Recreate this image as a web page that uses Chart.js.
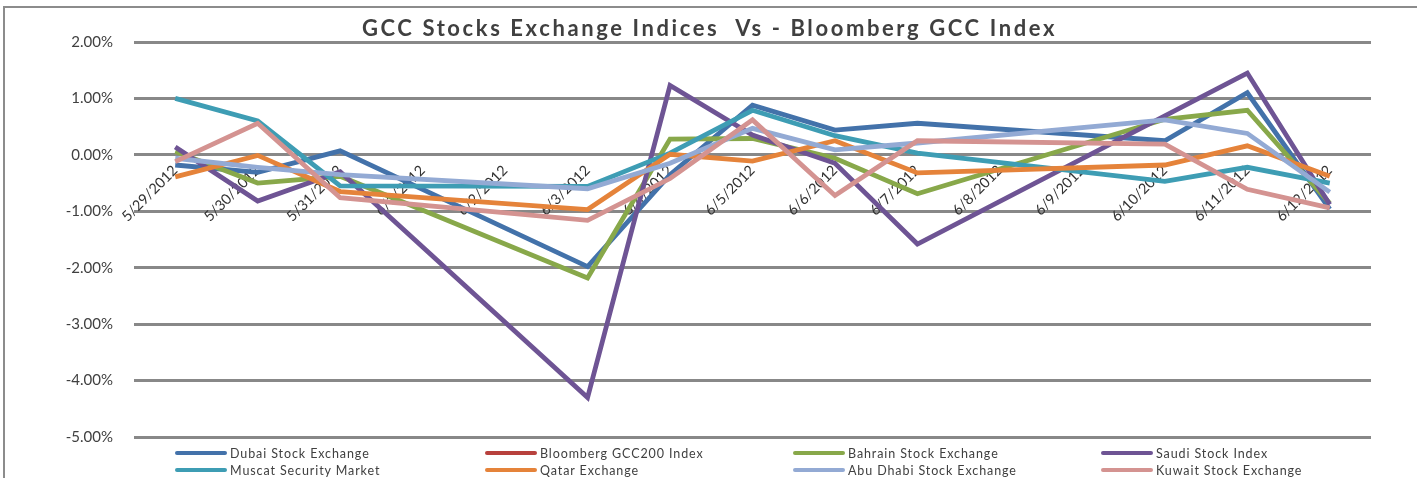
<!DOCTYPE html>
<html>
<head>
<meta charset="utf-8">
<script src="https://cdn.jsdelivr.net/npm/chart.js@4.4.1/dist/chart.umd.min.js"></script>
<style>
  html, body { margin: 0; padding: 0; background: #fff; }
  #wrap { position: relative; width: 1417px; height: 478px; overflow: hidden; }
  #frame { position: absolute; left: 3px; top: 6px; width: 1440px; height: 500px; border: 2px solid #8c8c8c; }
  #chart { position: absolute; left: 0; top: 0; }
  #legend { position: absolute; left: 0; top: 0; width: 1417px; height: 478px; pointer-events: none;
            font-family: Lato; font-size: 12.5px; letter-spacing: 0.9px; color: #404040; }
  .item { position: absolute; display: flex; align-items: center; white-space: nowrap; height: 16px; }
  .swatch { width: 52px; height: 4.5px; border-radius: 2.5px; margin-right: 3px; }
</style>
</head>
<body>
<div id="wrap">
  <div id="frame"></div>
  <canvas id="chart" width="1417" height="478"></canvas>
  <div id="legend"></div>
</div>
<script>
// Trading days only; weekends (6/1-6/2, 6/8-6/9) have no values
const dates = ['5/29/2012', '5/30/2012', '5/31/2012', '6/1/2012', '6/2/2012', '6/3/2012', '6/4/2012',
    '6/5/2012', '6/6/2012', '6/7/2012', '6/8/2012', '6/9/2012', '6/10/2012', '6/11/2012', '6/12/2012'];

const dubai     = [-0.18, -0.31,  0.07, null, null, -1.98, -0.35, 0.88,  0.44,  0.56, null, null,  0.25,  1.10, -0.96];
const bloomberg = [null, null, null, null, null, null, null, null, null, null, null, null, null, null, null];
const bahrain   = [ 0.06, -0.50, -0.38, null, null, -2.18,  0.28, 0.29, -0.06, -0.69, null, null,  0.63,  0.79, -0.86];
const saudi     = [ 0.14, -0.82, -0.30, null, null, -4.30,  1.23, 0.35, -0.15, -1.58, null, null,  0.69,  1.45, -0.88];
const muscat    = [ 1.00,  0.60, -0.55, null, null, -0.56,  0.03, 0.79,  0.34,  0.03, null, null, -0.47, -0.22, -0.50];
const qatar     = [-0.39, -0.01, -0.65, null, null, -0.97,  0.01, -0.11, 0.25, -0.32, null, null, -0.18,  0.16, -0.38];
const abuDhabi  = [-0.06, -0.22, -0.35, null, null, -0.60, -0.15, 0.47,  0.09,  0.21, null, null,  0.62,  0.38, -0.66];
const kuwait    = [-0.12,  0.56, -0.76, null, null, -1.16, -0.42, 0.62, -0.72,  0.25, null, null,  0.19, -0.61, -0.94];

const seriesNames = ['Dubai Stock Exchange', 'Bloomberg GCC200 Index', 'Bahrain Stock Exchange', 'Saudi Stock Index',
    'Muscat Security Market', 'Qatar Exchange', 'Abu Dhabi Stock Exchange', 'Kuwait Stock Exchange'];
const seriesData = [dubai, bloomberg, bahrain, saudi, muscat, qatar, abuDhabi, kuwait];
const seriesColors = ['#4372aa', '#b8413d', '#88a84a', '#6e5494', '#3e9db4', '#e5833a', '#93aad4', '#d49391'];

const titleText = 'GCC Stocks Exchange Indices  Vs - Bloomberg GCC Index';

const datasets = seriesNames.map((name, i) => ({
    label: name,
    data: seriesData[i],
    borderColor: seriesColors[i],
    backgroundColor: seriesColors[i],
    borderWidth: 4.8,
    pointRadius: 0,
    tension: 0,
    spanGaps: true,
    fill: false,
    // later series drawn on top, like the original
    order: seriesNames.length - i
}));

// Title with wide letter spacing (the built-in title can't space letters)
const spacedTitle = {
    id: 'spacedTitle',
    afterDraw(chart) {
        const ctx = chart.ctx;
        ctx.save();
        ctx.font = 'bold 22px Lato';
        ctx.letterSpacing = '2.6px';
        ctx.fillStyle = '#404040';
        ctx.textAlign = 'center';
        ctx.textBaseline = 'middle';
        ctx.fillText(titleText, chart.width / 2 + 1, 29);
        ctx.restore();
    }
};

const chart = new Chart(document.getElementById('chart'), {
    type: 'line',
    data: { labels: dates, datasets },
    options: {
        responsive: false,
        animation: false,
        layout: { padding: { left: 0, right: 46, top: 42, bottom: 41 } },
        plugins: {
            legend: { display: false },
            tooltip: { enabled: false },
            title: { display: false }
        },
        scales: {
            x: {
                position: { y: 0 },
                offset: true,
                grid: { display: false, drawTicks: false },
                border: { display: false },
                ticks: {
                    autoSkip: false,
                    minRotation: 45,
                    maxRotation: 45,
                    padding: 7,
                    color: '#333',
                    font: { family: 'Lato', size: 14.5 }
                }
            },
            y: {
                min: -5,
                max: 2,
                afterFit: s => { s.width = 134; },
                grid: { color: '#888', lineWidth: 3, drawTicks: false },
                border: { display: false },
                ticks: {
                    stepSize: 1,
                    padding: 21,
                    color: '#404040',
                    font: { family: 'Lato', size: 15 },
                    callback: v => v.toFixed(2) + '%'
                }
            }
        }
    },
    plugins: [spacedTitle]
});

// Legend: 4 columns x 2 rows, built from the datasets
const legendCols = [175, 485, 793, 1101];
const legendRows = [445, 462];
const legendEl = document.getElementById('legend');
chart.data.datasets.forEach((ds, i) => {
    const item = document.createElement('div');
    item.className = 'item';
    item.style.left = legendCols[i % 4] + 'px';
    item.style.top = legendRows[Math.floor(i / 4)] + 'px';
    item.innerHTML = `<span class="swatch" style="background:${ds.borderColor}"></span><span>${ds.label}</span>`;
    legendEl.appendChild(item);
});
</script>
</body>
</html>
